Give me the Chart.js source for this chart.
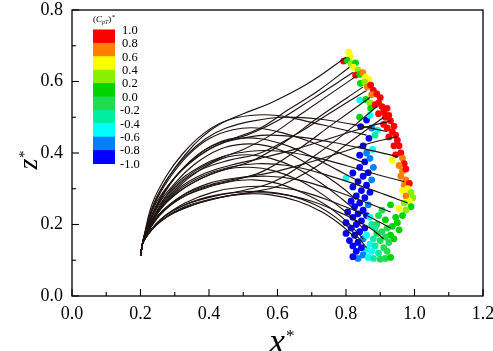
<!DOCTYPE html>
<html><head><meta charset="utf-8">
<script src="https://cdn.jsdelivr.net/npm/chart.js@4.4.0/dist/chart.umd.min.js"></script>
<style>html,body{margin:0;padding:0;background:#fff}canvas{display:block}</style>
</head><body>
<canvas id="c" width="493" height="351"></canvas>
<script>
// ---------- data ----------
const S = [0.2, 0.112];
const risingPaths = [
  [S,[0.21,0.165],[0.24,0.26],[0.28,0.33],[0.33,0.395],[0.38,0.445],[0.43,0.48],[0.50,0.51],[0.58,0.54],[0.69,0.595],[0.80,0.668]],
  [S,[0.21,0.165],[0.24,0.25],[0.29,0.32],[0.34,0.37],[0.40,0.41],[0.47,0.44],[0.55,0.47],[0.63,0.52],[0.72,0.575],[0.81,0.64]],
  [S,[0.21,0.163],[0.245,0.245],[0.30,0.33],[0.36,0.39],[0.43,0.43],[0.51,0.45],[0.60,0.49],[0.70,0.55],[0.82,0.625]],
  [S,[0.21,0.162],[0.245,0.24],[0.30,0.305],[0.36,0.35],[0.43,0.385],[0.50,0.41],[0.58,0.45],[0.67,0.51],[0.83,0.615]],
  [S,[0.21,0.16],[0.25,0.24],[0.31,0.31],[0.38,0.355],[0.46,0.38],[0.55,0.40],[0.65,0.45],[0.75,0.51],[0.86,0.575]],
  [S,[0.21,0.16],[0.25,0.235],[0.31,0.29],[0.38,0.33],[0.45,0.355],[0.53,0.38],[0.62,0.43],[0.72,0.50],[0.85,0.585]],
  [S,[0.21,0.158],[0.25,0.225],[0.32,0.275],[0.40,0.305],[0.48,0.325],[0.56,0.35],[0.66,0.41],[0.76,0.48],[0.87,0.555]],
  [S,[0.21,0.155],[0.26,0.215],[0.33,0.255],[0.42,0.28],[0.50,0.295],[0.59,0.32],[0.69,0.38],[0.79,0.45],[0.89,0.53]],
  [S,[0.21,0.155],[0.26,0.21],[0.34,0.25],[0.43,0.275],[0.52,0.29],[0.61,0.31],[0.71,0.36],[0.81,0.43],[0.91,0.50]]
];
const archPaths = [
  [S,[0.21,0.166],[0.235,0.26],[0.275,0.335],[0.325,0.40],[0.385,0.455],[0.45,0.49],[0.52,0.505],[0.60,0.505],[0.68,0.49],[0.77,0.47],[0.86,0.45]],
  [S,[0.21,0.165],[0.24,0.255],[0.285,0.33],[0.34,0.395],[0.40,0.44],[0.47,0.465],[0.54,0.47],[0.62,0.455],[0.70,0.43],[0.78,0.40],[0.86,0.37]],
  [S,[0.21,0.163],[0.245,0.25],[0.29,0.32],[0.35,0.38],[0.41,0.42],[0.48,0.44],[0.55,0.44],[0.63,0.42],[0.71,0.385],[0.78,0.35],[0.84,0.32]],
  [S,[0.21,0.162],[0.245,0.245],[0.30,0.315],[0.36,0.37],[0.43,0.41],[0.50,0.425],[0.57,0.42],[0.64,0.395],[0.71,0.355],[0.78,0.31],[0.83,0.27]],
  [S,[0.21,0.16],[0.25,0.24],[0.31,0.305],[0.37,0.35],[0.44,0.385],[0.51,0.395],[0.58,0.385],[0.65,0.36],[0.72,0.32],[0.79,0.27],[0.84,0.23]],
  [S,[0.21,0.158],[0.25,0.232],[0.31,0.29],[0.38,0.33],[0.45,0.355],[0.52,0.36],[0.59,0.35],[0.66,0.325],[0.73,0.285],[0.80,0.235],[0.85,0.19]],
  [S,[0.21,0.157],[0.255,0.225],[0.32,0.275],[0.39,0.305],[0.46,0.32],[0.53,0.325],[0.60,0.315],[0.67,0.29],[0.74,0.255],[0.80,0.21],[0.85,0.16]],
  [S,[0.21,0.155],[0.26,0.215],[0.33,0.255],[0.40,0.278],[0.48,0.29],[0.56,0.292],[0.64,0.28],[0.71,0.255],[0.77,0.22],[0.82,0.18],[0.86,0.135]],
  [S,[0.21,0.155],[0.26,0.21],[0.33,0.25],[0.41,0.272],[0.50,0.285],[0.58,0.283],[0.66,0.265],[0.73,0.235],[0.79,0.195],[0.84,0.15]]
];
const sidePaths = [
  [S,[0.21,0.165],[0.24,0.26],[0.28,0.33],[0.33,0.39],[0.39,0.44],[0.45,0.47],[0.53,0.49],[0.62,0.50],[0.72,0.495],[0.82,0.48],[0.92,0.46]],
  [S,[0.21,0.163],[0.245,0.25],[0.295,0.325],[0.355,0.38],[0.42,0.42],[0.49,0.44],[0.57,0.45],[0.66,0.445],[0.76,0.43],[0.86,0.41],[0.95,0.39]],
  [S,[0.21,0.161],[0.25,0.24],[0.30,0.31],[0.37,0.36],[0.44,0.39],[0.52,0.405],[0.61,0.405],[0.70,0.39],[0.80,0.365],[0.89,0.34],[0.97,0.32]],
  [S,[0.21,0.159],[0.25,0.232],[0.31,0.295],[0.38,0.335],[0.46,0.36],[0.54,0.37],[0.63,0.365],[0.72,0.345],[0.82,0.315],[0.91,0.285],[0.98,0.26]],
  [S,[0.21,0.157],[0.255,0.225],[0.32,0.28],[0.40,0.315],[0.48,0.33],[0.57,0.335],[0.66,0.325],[0.75,0.30],[0.85,0.265],[0.93,0.235]],
  [S,[0.21,0.156],[0.26,0.215],[0.33,0.26],[0.41,0.29],[0.50,0.305],[0.59,0.305],[0.68,0.29],[0.77,0.26],[0.86,0.225],[0.93,0.19]],
  [S,[0.21,0.155],[0.26,0.21],[0.34,0.25],[0.43,0.275],[0.52,0.288],[0.61,0.285],[0.70,0.265],[0.79,0.23],[0.87,0.19],[0.91,0.16]],
  [S,[0.21,0.16],[0.25,0.235],[0.31,0.30],[0.38,0.34],[0.46,0.365],[0.55,0.385],[0.65,0.41],[0.75,0.44],[0.85,0.47],[0.93,0.49]],
  [S,[0.21,0.158],[0.255,0.228],[0.32,0.28],[0.40,0.31],[0.49,0.33],[0.58,0.345],[0.68,0.37],[0.78,0.40],[0.88,0.43],[0.95,0.445]]
];
// end points: [x*, z*, (CpT)*]
const endPoints = [
  [0.808,0.682,0.5],[0.812,0.670,0.45],[0.793,0.657,0.9],[0.803,0.660,0.1],[0.815,0.650,0.3],[0.828,0.652,0.1],
  [0.822,0.640,0.5],[0.835,0.632,0.3],[0.828,0.618,0.9],[0.840,0.620,0.1],[0.849,0.625,0.7],[0.857,0.612,0.5],
  [0.867,0.605,0.5],[0.842,0.595,0.1],[0.855,0.598,0.3],[0.862,0.585,0.7],[0.872,0.590,0.9],[0.880,0.575,0.9],
  [0.875,0.563,0.7],[0.890,0.565,0.9],[0.900,0.555,0.9],[0.840,0.548,-0.5],[0.858,0.550,0.1],[0.870,0.540,0.3],
  [0.872,0.525,0.1],[0.885,0.535,0.9],[0.895,0.540,0.9],[0.905,0.530,0.9],[0.910,0.515,0.9],[0.920,0.525,0.9],
  [0.895,0.510,0.9],[0.915,0.500,0.9],[0.925,0.505,0.9],[0.930,0.490,0.9],[0.910,0.480,0.9],[0.920,0.470,0.9],
  [0.940,0.475,0.9],[0.935,0.460,0.9],[0.945,0.450,0.9],[0.925,0.445,0.9],[0.950,0.435,0.9],[0.940,0.420,0.9],
  [0.955,0.420,0.9],[0.960,0.400,0.9],[0.945,0.395,0.9],[0.965,0.385,0.7],[0.935,0.380,0.5],[0.970,0.370,0.9],
  [0.955,0.365,0.7],[0.965,0.350,0.7],[0.975,0.355,0.9],[0.960,0.335,0.7],[0.975,0.325,0.7],[0.970,0.310,0.7],
  [0.985,0.315,0.9],[0.980,0.300,0.5],[0.965,0.295,0.5],[0.990,0.290,0.3],[0.975,0.280,0.7],[0.995,0.275,0.3],
  [0.985,0.265,0.5],[0.970,0.260,0.3],[0.990,0.250,0.1],[0.955,0.245,0.5],[0.975,0.240,0.3],[0.965,0.225,0.1],
  [0.930,0.255,0.1],[0.945,0.220,0.1],[0.915,0.213,0.1],[0.950,0.205,0.1],[0.935,0.195,0.1],[0.955,0.185,0.1],
  [0.920,0.190,0.0],[0.905,0.180,-0.1],[0.930,0.170,0.1],[0.890,0.175,-0.1],[0.915,0.165,0.0],[0.940,0.160,0.1],
  [0.880,0.160,-0.3],[0.900,0.155,-0.1],[0.925,0.150,0.0],[0.870,0.145,-0.5],[0.885,0.140,-0.3],[0.910,0.135,-0.1],
  [0.860,0.130,-0.5],[0.875,0.125,-0.5],[0.895,0.120,-0.3],[0.920,0.125,0.0],[0.850,0.115,-0.7],[0.865,0.108,-0.5],
  [0.880,0.105,-0.3],[0.900,0.103,-0.1],[0.915,0.105,0.0],[0.930,0.108,0.1],[0.835,0.105,-0.7],[0.820,0.110,-0.9],
  [0.830,0.125,-0.9],[0.845,0.135,-0.9],[0.820,0.140,-0.9],[0.810,0.155,-0.9],[0.835,0.150,-0.9],[0.850,0.160,-0.7],
  [0.825,0.170,-0.9],[0.800,0.175,-0.9],[0.840,0.180,-0.9],[0.815,0.190,-0.9],[0.855,0.190,-0.9],[0.830,0.200,-0.9],
  [0.800,0.205,-0.9],[0.845,0.210,-0.9],[0.820,0.220,-0.9],[0.860,0.225,-0.9],[0.835,0.230,-0.9],[0.805,0.235,-0.9],
  [0.850,0.240,-0.9],[0.825,0.250,-0.9],[0.865,0.255,-0.7],[0.840,0.260,-0.9],[0.815,0.265,-0.9],[0.855,0.275,-0.9],
  [0.830,0.280,-0.9],[0.870,0.290,-0.9],[0.845,0.295,-0.9],[0.820,0.305,-0.9],[0.860,0.310,-0.9],[0.835,0.320,-0.9],
  [0.875,0.325,-0.7],[0.850,0.335,-0.9],[0.820,0.344,-0.9],[0.865,0.345,-0.9],[0.840,0.360,-0.9],[0.880,0.360,-0.7],
  [0.855,0.375,-0.9],[0.870,0.385,-0.7],[0.840,0.394,-0.9],[0.860,0.400,-0.7],[0.878,0.410,-0.5],[0.850,0.420,-0.9],
  [0.867,0.441,-0.9],[0.843,0.474,-0.9],[0.860,0.492,-0.9],[0.875,0.470,-0.7],[0.892,0.464,-0.5],[0.885,0.450,-0.3],
  [0.870,0.505,-0.5],[0.800,0.330,-0.5],[0.870,0.220,-0.5],[0.875,0.200,-0.3],[0.860,0.170,-0.5],[0.890,0.200,-0.1],
  [0.895,0.225,-0.1],[0.905,0.240,0.0],[0.885,0.190,-0.3],[0.840,0.500,0.1]
];
const xTickValues = [0, 0.2, 0.4, 0.6, 0.8, 1.0, 1.2];
const xMinorTicks = [0.1, 0.3, 0.5, 0.7, 0.9, 1.1];
const yTickValues = [0, 0.2, 0.4, 0.6, 0.8];
const yMinorTicks = [0.1, 0.3, 0.5, 0.7];
const cbLevels = ['1.0','0.8','0.6','0.4','0.2','0.0','-0.2','-0.4','-0.6','-0.8','-1.0'];
const cbColors = ['#ff0000','#ff8000','#ffff00','#88f000','#00d400','#20dc50','#00eea0','#00ffff','#0080ff','#0000ff'];

// ---------- chart ----------
const SERIF = '"Liberation Serif","Times New Roman",serif';
function colorFor(v){ let i = Math.floor((1 - v) / 0.2 + 1e-9); i = Math.max(0, Math.min(9, i)); return cbColors[i]; }

const lineSets = [...risingPaths, ...archPaths, ...sidePaths].map(p => ({
  data: p.map(([x, y]) => ({x, y})), showLine: true, tension: 0.4,
  borderColor: '#1e1412', borderWidth: 1.15, pointRadius: 0, fill: false, order: 0
}));
const pointSet = {
  data: endPoints.map(([x, y]) => ({x, y})), showLine: false,
  pointRadius: 3.4, pointBorderWidth: 0,
  pointBackgroundColor: endPoints.map(p => colorFor(p[2])), order: 1
};

const framePlugin = {
  id: 'frame',
  afterDraw(chart) {
    const {ctx, chartArea: a, scales: {x, y}} = chart;
    ctx.save();
    ctx.strokeStyle = '#000'; ctx.lineWidth = 1.3;
    ctx.strokeRect(a.left, a.top, a.right - a.left, a.bottom - a.top);
    ctx.lineWidth = 1.1;
    const seg = (x1, y1, x2, y2) => { ctx.beginPath(); ctx.moveTo(x1, y1); ctx.lineTo(x2, y2); ctx.stroke(); };
    xTickValues.forEach(v => { const p = x.getPixelForValue(v); seg(p, a.bottom, p, a.bottom - 7); });
    xMinorTicks.forEach(v => { const p = x.getPixelForValue(v); seg(p, a.bottom, p, a.bottom - 4); });
    yTickValues.forEach(v => { const p = y.getPixelForValue(v); seg(a.left, p, a.left + 7, p); });
    yMinorTicks.forEach(v => { const p = y.getPixelForValue(v); seg(a.left, p, a.left + 4, p); });
    // axis titles
    ctx.fillStyle = '#000';
    ctx.textBaseline = 'alphabetic';
    ctx.font = 'italic 36px ' + SERIF;
    ctx.textAlign = 'center';
    ctx.fillText('x', 277, 353);
    ctx.font = '17px ' + SERIF;
    ctx.textAlign = 'left';
    ctx.fillText('*', 286, 341);
    ctx.save();
    ctx.translate(37, 164);
    ctx.rotate(-Math.PI / 2);
    ctx.font = 'italic 28px ' + SERIF;
    ctx.textAlign = 'center';
    ctx.fillText('z', 0, 0);
    ctx.font = '15px ' + SERIF;
    ctx.textAlign = 'left';
    ctx.fillText('*', 6, -8);
    ctx.restore();
    // colour bar legend
    const bx = a.left + 21, by = a.top + 19.5, bw = 22, bh = 13.4;
    cbColors.forEach((c, i) => { ctx.fillStyle = c; ctx.fillRect(bx, by + i * bh, bw, bh + 0.5); });
    ctx.fillStyle = '#000';
    ctx.font = '12.5px ' + SERIF;
    ctx.textAlign = 'left'; ctx.textBaseline = 'middle';
    cbLevels.forEach((t, i) => ctx.fillText(t, bx + (t[0] === '-' ? 27 : 29), by + i * bh + 1));
    // title (C_pT)*
    ctx.textBaseline = 'alphabetic';
    let tx = bx, ty = a.top + 12;
    ctx.font = '9px ' + SERIF; ctx.fillText('(', tx, ty); tx += ctx.measureText('(').width;
    ctx.font = 'italic 9px ' + SERIF; ctx.fillText('C', tx, ty); tx += ctx.measureText('C').width;
    ctx.font = 'italic 6px ' + SERIF; ctx.fillText('pT', tx, ty + 2); tx += ctx.measureText('pT').width;
    ctx.font = '9px ' + SERIF; ctx.fillText(')', tx, ty); tx += ctx.measureText(')').width;
    ctx.font = '7px ' + SERIF; ctx.fillText('*', tx + 0.5, ty - 3);
    ctx.restore();
  }
};

new Chart(document.getElementById('c'), {
  type: 'scatter',
  data: { datasets: [...lineSets, pointSet] },
  options: {
    responsive: false, animation: false, devicePixelRatio: 1,
    layout: { padding: { top: 10, right: 10, left: 0, bottom: 0 } },
    plugins: { legend: { display: false }, tooltip: { enabled: false } },
    scales: {
      x: {
        type: 'linear', min: 0, max: 1.2,
        afterFit: s => { s.height = 55; s.paddingLeft = 0; s.paddingRight = 0; },
        afterBuildTicks: s => { s.ticks = xTickValues.map(v => ({value: v})); },
        ticks: { callback: v => Number(v).toFixed(1), color: '#000', padding: 7, maxRotation: 0,
                 font: { family: SERIF, size: 18 } },
        grid: { display: false, drawTicks: false }, border: { display: false }
      },
      y: {
        type: 'linear', min: 0, max: 0.8,
        afterFit: s => { s.width = 72; s.paddingTop = 0; s.paddingBottom = 0; },
        afterBuildTicks: s => { s.ticks = yTickValues.map(v => ({value: v})); },
        ticks: { callback: v => Number(v).toFixed(1), color: '#000', padding: 9,
                 font: { family: SERIF, size: 18 } },
        grid: { display: false, drawTicks: false }, border: { display: false }
      }
    }
  },
  plugins: [framePlugin]
});
</script>
</body></html>
